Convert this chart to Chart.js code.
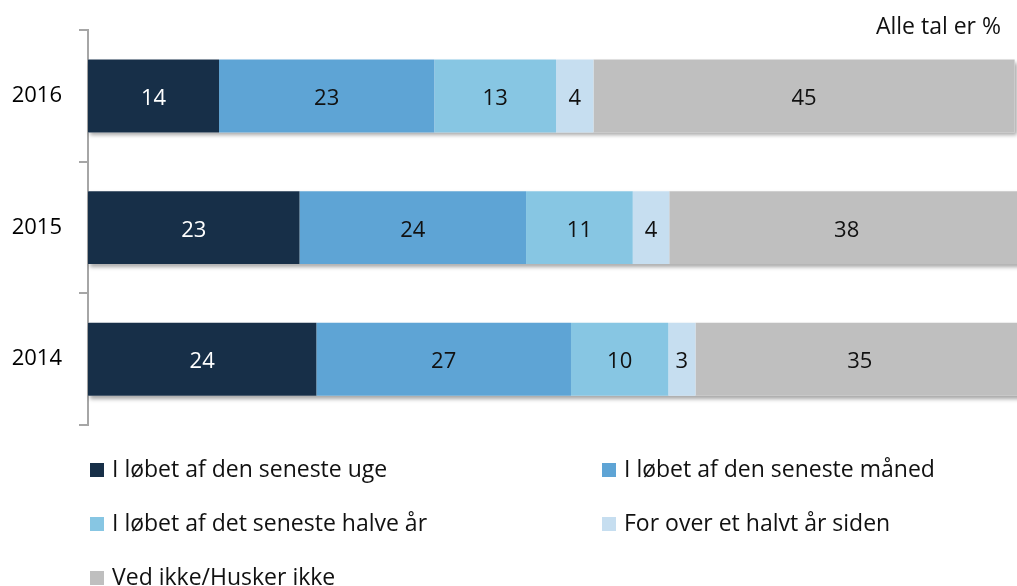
<!DOCTYPE html>
<html>
<head>
<meta charset="utf-8">
<script src="https://cdn.jsdelivr.net/npm/chart.js@4/dist/chart.umd.min.js"></script>
<style>
  body { margin: 0; background: #fff; }
  #wrap { position: relative; width: 1017px; height: 586px; font-family: "Open Sans", sans-serif; color: #111; }
  #note { position: absolute; right: 16px; top: 10px; font-size: 23px; line-height: 30px; }
  .item { position: absolute; font-size: 23px; line-height: 26px; white-space: nowrap; }
  .item span.box { display: inline-block; width: 14px; height: 14px; margin-right: 8px; vertical-align: 0px; }
</style>
</head>
<body>
<div id="wrap">
  <canvas id="mycanvas" width="1017" height="586"></canvas>
  <div id="note">Alle tal er %</div>
  <div id="legend"></div>
</div>
<script>
var years = ['2016', '2015', '2014'];
var seriesNames = ['I løbet af den seneste uge', 'I løbet af den seneste måned', 'I løbet af det seneste halve år', 'For over et halvt år siden', 'Ved ikke/Husker ikke'];
var seriesColors = ['#172f48', '#5ea4d5', '#87c6e3', '#c6def0', '#bfbfbf'];
// shares in % (labels show them rounded)
var week = [14.0, 22.6, 24.4];
var month = [23.0, 24.2, 27.2];
var halfYear = [13.0, 11.4, 10.4];
var overHalfYear = [4.0, 3.9, 2.9];
var dontKnow = [45.0, 38.0, 35.1];

var allValues = [week, month, halfYear, overHalfYear, dontKnow];

var datasets = allValues.map(function(vals, s) {
    return {
        label: seriesNames[s],
        data: vals,
        backgroundColor: seriesColors[s],
        borderWidth: 0,
        categoryPercentage: 1,
        barPercentage: 0.554
    };
});

// soft shadow below each whole bar
var shadowPlugin = {
    id: 'barShadow',
    beforeDatasetsDraw: function(chart) {
        var ctx = chart.ctx;
        var first = chart.getDatasetMeta(0).data;
        var last = chart.getDatasetMeta(datasets.length - 1).data;
        ctx.save();
        ctx.shadowColor = 'rgba(0,0,0,0.35)';
        ctx.shadowBlur = 4;
        ctx.shadowOffsetX = 2;
        ctx.shadowOffsetY = 3;
        ctx.fillStyle = '#fff';
        for (var i = 0; i < first.length; i++) {
            var b0 = first[i], b1 = last[i];
            ctx.fillRect(b0.base, b0.y - b0.height / 2, b1.x - b0.base, b0.height);
        }
        ctx.restore();
    }
};

var valueLabels = {
    id: 'valueLabels',
    afterDatasetsDraw: function(chart) {
        var ctx = chart.ctx;
        ctx.save();
        ctx.font = '22px "Open Sans", sans-serif';
        ctx.textAlign = 'center';
        ctx.textBaseline = 'middle';
        chart.data.datasets.forEach(function(ds, s) {
            chart.getDatasetMeta(s).data.forEach(function(bar, i) {
                var right = Math.min(bar.x, chart.chartArea.right + 7);
                ctx.fillStyle = s == 0 ? '#fff' : '#111';
                ctx.fillText(String(Math.round(ds.data[i])), (right + bar.base) / 2, bar.y + 3);
            });
        });
        ctx.restore();
    }
};

new Chart(document.getElementById('mycanvas'), {
    type: 'bar',
    data: { labels: years, datasets: datasets },
    options: {
        indexAxis: 'y',
        responsive: false,
        animation: false,
        layout: { padding: { top: 24, right: 0, bottom: 161, left: 0 } },
        plugins: { legend: { display: false }, tooltip: { enabled: false } },
        scales: {
            x: { stacked: true, min: 0, max: 99.25, display: false },
            y: {
                stacked: true,
                afterFit: function(scale) { scale.width = 88; },
                grid: { drawOnChartArea: false, drawTicks: true, tickLength: 9, color: '#a6a6a6', lineWidth: 2 },
                border: { color: '#a6a6a6', width: 2 },
                ticks: { color: '#000', padding: 17, font: { family: '"Open Sans", sans-serif', size: 22 } }
            }
        }
    },
    plugins: [shadowPlugin, valueLabels]
});

// legend in two columns under the chart
var legendPos = [[90, 455], [602, 455], [90, 509], [602, 509], [90, 563]];
var legend = document.getElementById('legend');
seriesNames.forEach(function(name, s) {
    var el = document.createElement('div');
    el.className = 'item';
    el.style.left = legendPos[s][0] + 'px';
    el.style.top = legendPos[s][1] + 'px';
    el.innerHTML = '<span class="box" style="background:' + seriesColors[s] + '"></span>' + name;
    legend.appendChild(el);
});
</script>
</body>
</html>
